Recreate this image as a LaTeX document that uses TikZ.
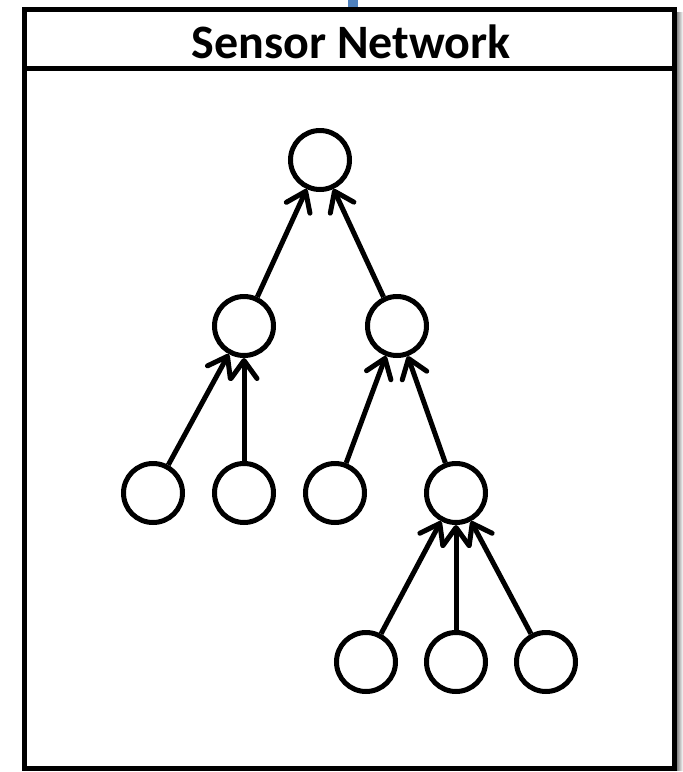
\documentclass[tikz,border=0pt]{standalone}
\usepackage{fontspec}
\setmainfont{Carlito}
\usetikzlibrary{arrows.meta}
\definecolor{linkblue}{RGB}{79,129,189}
\tikzset{
  sensor/.style={circle,draw,line width=5pt,minimum size=59pt,inner sep=0pt},
  uplink/.style={line width=5pt,-{Straight Barb[length=18pt,width=26pt,round]}},
}
\begin{document}
\begin{tikzpicture}[x=1pt,y=-1pt]
  \useasboundingbox (0,0) rectangle (683,772);
  % frame with its shadow and header
  \shade[left color=black!55,right color=white] (676,12) rectangle (683,770);
  \draw[line width=5pt,fill=white] (24,9) rectangle (674,768);
  \draw[line width=5pt] (24,68) -- (674,68);
  \node[anchor=base] (title) at (351,58) {\fontsize{48}{54}\selectfont\bfseries Sensor Network};
  \fill[linkblue] (348,0) rectangle (358,7);
  % sink and sensors
  \node[sensor] (R) at (320,160) {};
  \node[sensor] (A) at (244,326) {};
  \node[sensor] (B) at (397,326) {};
  \node[sensor] (A1) at (153,493) {};
  \node[sensor] (A2) at (244,493) {};
  \node[sensor] (B1) at (335,493) {};
  \node[sensor] (B2) at (456,493) {};
  \node[sensor] (C1) at (366,662) {};
  \node[sensor] (C2) at (456,662) {};
  \node[sensor] (C3) at (546,662) {};
  % links towards the sink
  \draw[uplink] (A) edge (R);
  \draw[uplink] (B) edge (R);
  \draw[uplink] (A1) edge (A);
  \draw[uplink] (A2) edge (A);
  \draw[uplink] (B1) edge (B);
  \draw[uplink] (B2) edge (B);
  \draw[uplink] (C1) edge (B2);
  \draw[uplink] (C2) edge (B2);
  \draw[uplink] (C3) edge (B2);
\end{tikzpicture}
\end{document}
